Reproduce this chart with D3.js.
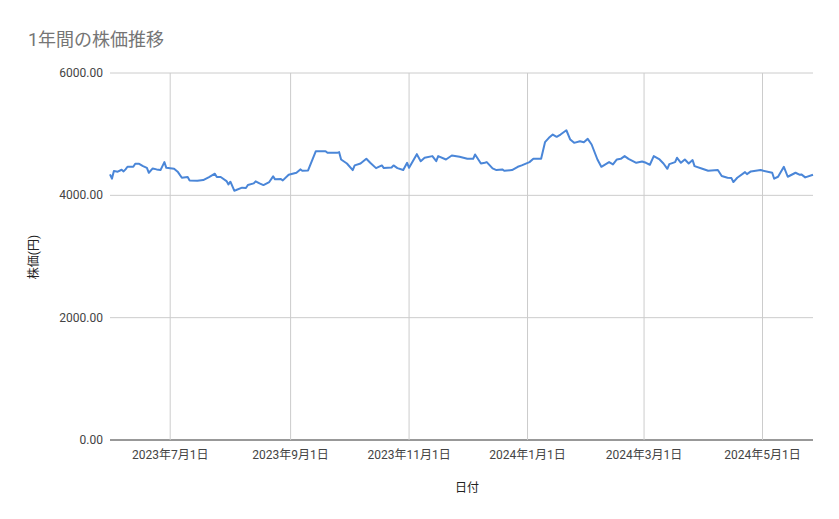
<!DOCTYPE html>
<html><head><meta charset="utf-8">
<script src="https://cdn.jsdelivr.net/npm/d3@7"></script>
<style>body{margin:0;background:#fff}text{font-family:Roboto,"Noto Sans CJK JP",sans-serif}</style>
</head><body>
<svg id="c" width="839" height="519"></svg>
<script>
var dates = ["2023-05-31","2023-06-01","2023-06-02","2023-06-04","2023-06-06","2023-06-07","2023-06-08","2023-06-09","2023-06-12","2023-06-13","2023-06-15","2023-06-17","2023-06-19","2023-06-20","2023-06-22","2023-06-24","2023-06-26","2023-06-28","2023-06-29","2023-07-03","2023-07-05","2023-07-07","2023-07-10","2023-07-11","2023-07-15","2023-07-18","2023-07-21","2023-07-24","2023-07-25","2023-07-27","2023-07-30","2023-07-31","2023-08-01","2023-08-03","2023-08-04","2023-08-07","2023-08-09","2023-08-10","2023-08-13","2023-08-14","2023-08-16","2023-08-18","2023-08-21","2023-08-23","2023-08-24","2023-08-27","2023-08-28","2023-08-31","2023-09-04","2023-09-06","2023-09-07","2023-09-10","2023-09-14","2023-09-19","2023-09-20","2023-09-25","2023-09-26","2023-09-27","2023-09-30","2023-10-03","2023-10-04","2023-10-07","2023-10-10","2023-10-12","2023-10-15","2023-10-18","2023-10-19","2023-10-23","2023-10-24","2023-10-26","2023-10-29","2023-10-31","2023-11-01","2023-11-05","2023-11-07","2023-11-09","2023-11-13","2023-11-15","2023-11-16","2023-11-20","2023-11-23","2023-11-27","2023-11-29",
"2023-12-01","2023-12-04","2023-12-05","2023-12-08","2023-12-10","2023-12-11","2023-12-14","2023-12-16","2023-12-19","2023-12-20","2023-12-24","2023-12-27","2023-12-29","2024-01-02","2024-01-04","2024-01-08","2024-01-10","2024-01-12","2024-01-14","2024-01-16","2024-01-18","2024-01-21","2024-01-23","2024-01-25","2024-01-28","2024-01-30","2024-02-01","2024-02-03","2024-02-06","2024-02-08","2024-02-12","2024-02-14","2024-02-16","2024-02-18","2024-02-20","2024-02-22","2024-02-26","2024-02-29","2024-03-02","2024-03-04","2024-03-06","2024-03-09","2024-03-11","2024-03-13","2024-03-14","2024-03-17","2024-03-18","2024-03-20","2024-03-22","2024-03-24","2024-03-26","2024-03-27","2024-03-31","2024-04-03","2024-04-08","2024-04-10","2024-04-13","2024-04-15","2024-04-16","2024-04-18","2024-04-22","2024-04-23","2024-04-25","2024-04-30","2024-05-06","2024-05-07","2024-05-09","2024-05-12","2024-05-14","2024-05-18","2024-05-20","2024-05-21","2024-05-23","2024-05-27"];
var prices = [4342,4272,4396,4386,4418,4391,4424,4467,4467,4516,4516,4478,4450,4369,4440,4424,4413,4543,4450,4434,4380,4288,4299,4244,4239,4250,4299,4353,4299,4299,4233,4179,4223,4076,4087,4125,4119,4168,4195,4228,4195,4168,4217,4310,4261,4266,4244,4337,4369,4424,4402,4407,4722,4722,4695,4695,4706,4586,4521,4413,4489,4521,4597,4532,4445,4489,4445,4456,4489,4445,4413,4532,4450,4673,4559,4614,4641,4559,4641,4586,4652,4630,4614,
4597,4597,4668,4521,4532,4543,4440,4413,4424,4402,4413,4467,4489,4543,4597,4597,4869,4940,4994,4956,4994,5064,4912,4858,4885,4869,4923,4831,4586,4467,4543,4505,4586,4597,4641,4597,4532,4554,4532,4500,4641,4586,4521,4434,4510,4543,4614,4532,4586,4521,4576,4478,4434,4402,4413,4315,4288,4282,4217,4288,4380,4347,4391,4413,4369,4272,4304,4467,4304,4369,4337,4342,4293,4337];
var yTicks = [0,2000,4000,6000];
var xTicks = ["2023-07-01","2023-09-01","2023-11-01","2024-01-01","2024-03-01","2024-05-01"];

var parse = d3.timeParse("%Y-%m-%d");
var data = dates.map(function (d, i) { return {date: parse(d), value: prices[i]} });

var svg = d3.select("#c");
var L = 110, R = 813, T = 73, B = 440;
var x = d3.scaleTime().domain(d3.extent(data, function (d) { return d.date })).range([L, R]);
var y = d3.scaleLinear().domain([0, 6000]).range([B, T]);

svg.append("text").attr("x", 28).attr("y", 46).attr("font-size", 18).attr("fill", "#757575").text("1年間の株価推移");

// gridlines
svg.append("g").selectAll("line").data(yTicks).join("line")
    .attr("x1", L).attr("x2", R).attr("y1", y).attr("y2", y)
    .attr("stroke", function (d) { return d === 0 ? "#333" : "#ccc" }).attr("stroke-width", 1);
svg.append("g").selectAll("line").data(xTicks).join("line")
    .attr("x1", function (d) { return x(parse(d)) }).attr("x2", function (d) { return x(parse(d)) })
    .attr("y1", T).attr("y2", B).attr("stroke", "#ccc");

svg.append("g").selectAll("text").data(yTicks).join("text")
    .attr("x", 103).attr("y", function (d) { return y(d) + 4 }).attr("text-anchor", "end")
    .attr("font-size", 12).attr("fill", "#444").text(function (d) { return d.toFixed(2) });
svg.append("g").selectAll("text").data(xTicks).join("text")
    .attr("x", function (d) { return x(parse(d)) }).attr("y", 459).attr("text-anchor", "middle")
    .attr("font-size", 12).attr("fill", "#444").text(function (d) { return d3.timeFormat("%Y年%-m月%-d日")(parse(d)) });

svg.append("text").attr("x", 467).attr("y", 492).attr("text-anchor", "middle").attr("font-size", 12).attr("fill", "#222").text("日付");
svg.append("text").attr("transform", "translate(38,257) rotate(-90)").attr("text-anchor", "middle").attr("font-size", 12).attr("fill", "#222").text("株価(円)");

svg.append("path").datum(data)
    .attr("fill", "none").attr("stroke", "#4a86d8").attr("stroke-width", 2).attr("stroke-linejoin", "round")
    .attr("d", d3.line().x(function (d) { return x(d.date) }).y(function (d) { return y(d.value) }));
</script>
</body></html>
